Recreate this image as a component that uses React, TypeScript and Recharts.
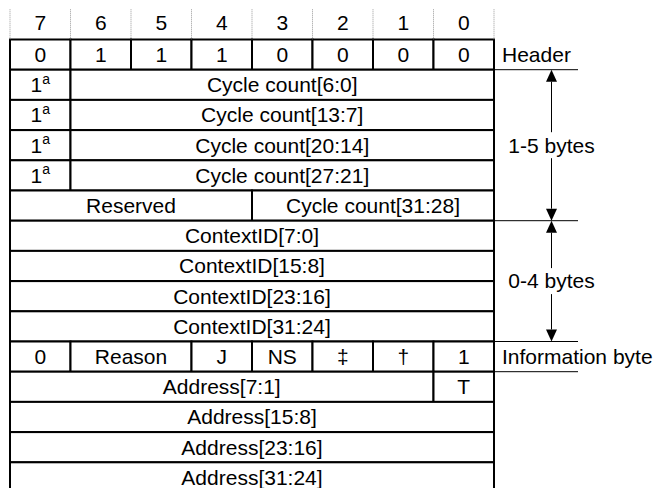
import React from 'react';
import { ComposedChart, XAxis, YAxis, ReferenceArea, ReferenceLine } from 'recharts';

// ---- data ----
const bitNumbers = [7, 6, 5, 4, 3, 2, 1, 0];
const headerValues = ['0', '1', '1', '1', '0', '0', '0', '0'];
const cycleCountLabels = ['Cycle count[6:0]', 'Cycle count[13:7]', 'Cycle count[20:14]', 'Cycle count[27:21]'];
const continuationBit = { text: '1', sup: 'a' };
const lastCycleFields = [
  { text: 'Reserved', hi: 7, lo: 4 },
  { text: 'Cycle count[31:28]', hi: 3, lo: 0 },
];
const contextIdLabels = ['ContextID[7:0]', 'ContextID[15:8]', 'ContextID[23:16]', 'ContextID[31:24]'];
const infoByteFields = [
  { text: '0', hi: 7, lo: 7 },
  { text: 'Reason', hi: 6, lo: 5 },
  { text: 'J', hi: 4, lo: 4 },
  { text: 'NS', hi: 3, lo: 3 },
  { text: '‡', hi: 2, lo: 2 },
  { text: '†', hi: 1, lo: 1 },
  { text: '1', hi: 0, lo: 0 },
];
const firstAddressFields = [
  { text: 'Address[7:1]', hi: 7, lo: 1 },
  { text: 'T', hi: 0, lo: 0 },
];
const addressLabels = ['Address[15:8]', 'Address[23:16]', 'Address[31:24]'];
const sideLabels = [
  { text: 'Header', row: 0 },
  { text: 'Information byte', row: 10 },
];
const byteRanges = [
  { text: '1-5 bytes', from: 1, to: 6 },
  { text: '0-4 bytes', from: 6, to: 10 },
];
const dividerRows = [1, 6, 10, 11];

// ---- layout constants ----
const W = 653;
const H = 488;
const COL = 60.5;
const ROW = 30.2;
const LEFT = 10;
const TOP = 9.3;
const FONT = '"Liberation Sans", Arial, Helvetica, sans-serif';
const FS = 21;
const X_MAX = (W - LEFT) / COL;
const Y_MAX = (H - TOP - ROW) / ROW;
const SIDE_LINE_END = (578 - LEFT) / COL;
const ARROW_X = (551.5 - LEFT) / COL;

type Cell = { row: number; hi: number; lo: number; text: string; sup?: string };

const cells: Cell[] = [];
headerValues.forEach((t, i) => cells.push({ row: 0, hi: bitNumbers[i], lo: bitNumbers[i], text: t }));
cycleCountLabels.forEach((t, i) => {
  cells.push({ row: 1 + i, hi: 7, lo: 7, text: continuationBit.text, sup: continuationBit.sup });
  cells.push({ row: 1 + i, hi: 6, lo: 0, text: t });
});
lastCycleFields.forEach((f) => cells.push({ row: 5, ...f }));
contextIdLabels.forEach((t, i) => cells.push({ row: 6 + i, hi: 7, lo: 0, text: t }));
infoByteFields.forEach((f) => cells.push({ row: 10, ...f }));
firstAddressFields.forEach((f) => cells.push({ row: 11, ...f }));
addressLabels.forEach((t, i) => cells.push({ row: 12 + i, hi: 7, lo: 0, text: t }));

const colStart = (hi: number) => 7 - hi;
const colEnd = (lo: number) => 8 - lo;

const renderCell = (p: any, c: Cell) => {
  const { x, y, width, height } = p;
  return (
    <g>
      <rect x={x} y={y} width={width} height={height} fill="#fff" stroke="#000" strokeWidth={2} />
      <text
        x={x + width / 2}
        y={y + height / 2}
        dy="0.35em"
        textAnchor="middle"
        fontSize={FS}
        fontFamily={FONT}
        fill="#000"
      >
        {c.text}
        {c.sup ? (
          <tspan fontSize={14} dy={-8.5}>
            {c.sup}
          </tspan>
        ) : null}
      </text>
    </g>
  );
};

const renderSideLabel = (p: any, text: string) => {
  const { x, y, height } = p;
  return (
    <text x={x + 8} y={y + height / 2} dy="0.35em" fontSize={FS} fontFamily={FONT} fill="#000">
      {text}
    </text>
  );
};

const renderRange = (p: any, text: string) => {
  const { x1, y1, x2, y2 } = p;
  const ah = 12;
  const aw = 5.5;
  const midY = (y1 + y2) / 2;
  return (
    <g>
      <line x1={x1} y1={y1 + ah} x2={x2} y2={y2 - ah} stroke="#000" strokeWidth={1} />
      <polygon points={`${x1},${y1} ${x1 - aw},${y1 + ah} ${x1 + aw},${y1 + ah}`} fill="#000" />
      <polygon points={`${x2},${y2} ${x2 - aw},${y2 - ah} ${x2 + aw},${y2 - ah}`} fill="#000" />
      <rect x={x1 - 45} y={midY - 13} width={90} height={26} fill="#fff" />
      <text x={x1} y={midY} dy="0.35em" textAnchor="middle" fontSize={FS} fontFamily={FONT} fill="#000">
        {text}
      </text>
    </g>
  );
};

const tickPositions = bitNumbers.map((b) => colStart(b) + 0.5);
const gridCols = [0, 1, 2, 3, 4, 5, 6, 7, 8];

export default function App() {
  return (
    <div style={{ position: 'fixed', left: 0, top: 0, width: W, height: H, background: '#fff' }}>
      <ComposedChart
        width={W}
        height={H}
        data={tickPositions.map((x) => ({ x }))}
        margin={{ top: TOP, right: 0, bottom: 0, left: LEFT }}
      >
        <XAxis
          type="number"
          dataKey="x"
          orientation="top"
          domain={[0, X_MAX]}
          allowDataOverflow
          ticks={tickPositions}
          interval={0}
          tickFormatter={(v: number) => String(7 - Math.floor(v))}
          height={ROW}
          axisLine={false}
          tickLine={false}
          tickSize={8}
          tickMargin={2}
          tick={{ fill: '#000', fontSize: FS, fontFamily: FONT }}
        />
        <YAxis type="number" domain={[0, Y_MAX]} reversed hide allowDataOverflow />
        {gridCols.map((c) => (
          <ReferenceLine
            key={`g${c}`}
            segment={[
              { x: c, y: -1 },
              { x: c, y: 0 },
            ]}
            ifOverflow="visible"
            stroke="#999"
            strokeWidth={1}
            strokeDasharray="1 1"
          />
        ))}
        {cells.map((c, i) => (
          <ReferenceArea
            key={`c${i}`}
            x1={colStart(c.hi)}
            x2={colEnd(c.lo)}
            y1={c.row}
            y2={c.row + 1}
            ifOverflow="visible"
            shape={(p: any) => renderCell(p, c)}
          />
        ))}
        {dividerRows.map((r) => (
          <ReferenceLine
            key={`d${r}`}
            segment={[
              { x: 8, y: r },
              { x: SIDE_LINE_END, y: r },
            ]}
            ifOverflow="visible"
            stroke="#000"
            strokeWidth={1}
          />
        ))}
        {sideLabels.map((s) => (
          <ReferenceArea
            key={`s${s.row}`}
            x1={8}
            x2={X_MAX}
            y1={s.row}
            y2={s.row + 1}
            ifOverflow="visible"
            shape={(p: any) => renderSideLabel(p, s.text)}
          />
        ))}
        {byteRanges.map((r) => (
          <ReferenceLine
            key={`r${r.from}`}
            segment={[
              { x: ARROW_X, y: r.from },
              { x: ARROW_X, y: r.to },
            ]}
            ifOverflow="visible"
            shape={(p: any) => renderRange(p, r.text)}
          />
        ))}
      </ComposedChart>
    </div>
  );
}
